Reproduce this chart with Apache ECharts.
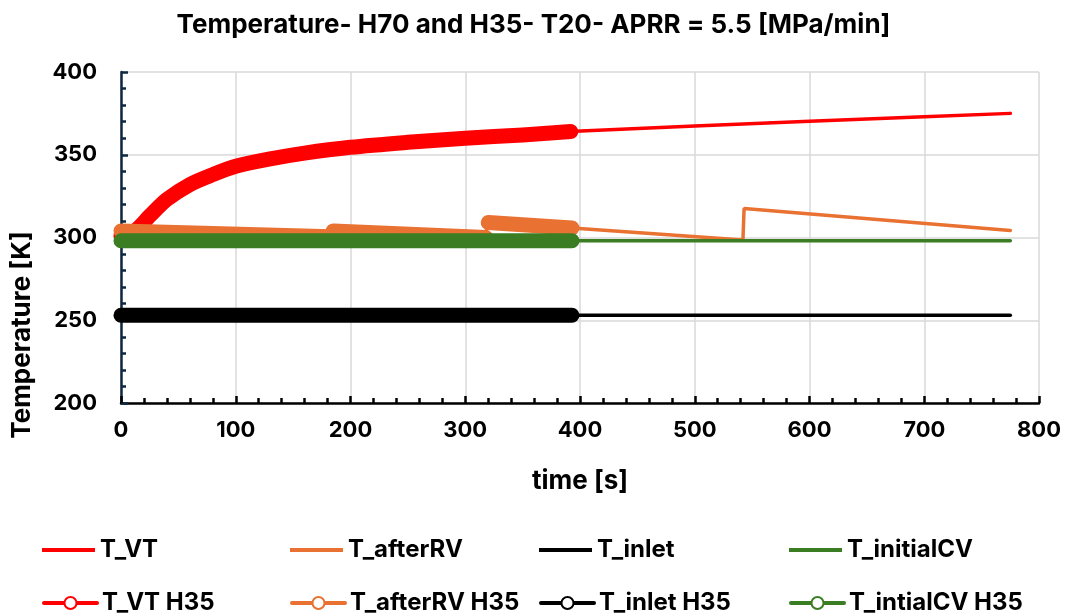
<!DOCTYPE html>
<html>
<head>
<meta charset="utf-8">
<script src="https://cdn.jsdelivr.net/npm/echarts@6/dist/echarts.min.js"></script>
<style>
html,body{margin:0;padding:0;background:#fff;}
#chart{width:1067px;height:616px;}
</style>
</head>
<body>
<div id="chart"></div>
<script>
// ---- Data ----
const titleText = 'Temperature- H70 and H35- T20- APRR = 5.5 [MPa/min]';
const xTicks = [0, 100, 200, 300, 400, 500, 600, 700, 800];
const yTicks = [200, 250, 300, 350, 400];

// H70 (thin lines)
const vtTime      = [0, 20, 50, 100, 200, 300, 391, 500, 600, 700, 775];
const vtTemp      = [301, 310, 328, 343, 354.5, 360, 364, 367.3, 370.2, 373, 375];
const afterRVTime = [0, 318, 319, 393, 542, 543, 775];
const afterRVTemp = [304, 300, 309, 305.7, 298.5, 317.5, 304.3];
const inletTime   = [0, 775];
const inletTemp   = [253, 253];
const initCVTime  = [0, 775];
const initCVTemp  = [298, 298];

// H35 (dense marker series, drawn as thick bands)
const vtH35Time      = [0, 12, 25, 40, 60, 80, 100, 130, 160, 200, 250, 300, 350, 392];
const vtH35Temp      = [301, 304, 313, 323, 332, 338, 343, 347.5, 351, 354.5, 357.5, 360, 362, 364];
// '-' marks a gap between the separate segments
const afterRVH35Time = [0, 183, 184, 185, 318, 318.5, 320, 393];
const afterRVH35Temp = [304, 300.5, '-', 304, 300, '-', 309, 305.7];
const inletH35Time   = [0, 393];
const inletH35Temp   = [253, 253];
const initCVH35Time  = [0, 393];
const initCVH35Temp  = [298, 298];

const names = ['T_VT', 'T_afterRV', 'T_inlet', 'T_initialCV',
               'T_VT H35', 'T_afterRV H35', 'T_inlet H35', 'T_intialCV H35'];
const colors = ['#FF0000', '#E97132', '#000000', '#3A7D22'];

function pairs(xs, ys) { return xs.map((x, i) => [x, ys[i]]); }

const FONT = 'Inter, "Liberation Sans", Arial, sans-serif';

const thinSets = [[vtTime, vtTemp], [afterRVTime, afterRVTemp], [inletTime, inletTemp], [initCVTime, initCVTemp]];
const thickSets = [[vtH35Time, vtH35Temp], [afterRVH35Time, afterRVH35Temp], [inletH35Time, inletH35Temp], [initCVH35Time, initCVH35Temp]];

const series = [];
thinSets.forEach((s, i) => {
  series.push({
    name: names[i], type: 'line', data: pairs(s[0], s[1]),
    symbol: 'none', showSymbol: false, connectNulls: false,
    lineStyle: { color: colors[i], width: 3.5, cap: 'round' },
    itemStyle: { color: colors[i] },
    z: 2, silent: true, animation: false
  });
});
thickSets.forEach((s, i) => {
  series.push({
    name: names[i + 4], type: 'line', data: pairs(s[0], s[1]),
    symbol: 'emptyCircle', showSymbol: false, connectNulls: false,
    smooth: i === 0 ? 0.3 : false,
    lineStyle: { color: colors[i], width: 15, cap: 'round', join: 'round' },
    itemStyle: { color: colors[i] },
    z: 3 + i, silent: true, animation: false
  });
});

const legendLefts = [42, 290, 539, 789];
const legendRowCenters = [550, 603];
const lineIcon = 'path://M0,0H53V4H0Z';
const legends = [];
names.forEach((n, idx) => {
  const col = idx % 4, row = Math.floor(idx / 4);
  legends.push({
    left: legendLefts[col], top: legendRowCenters[row] - 12,
    itemWidth: 53, itemHeight: 15, padding: 0,
    data: [row === 0 ? { name: n, icon: lineIcon } : { name: n }],
    lineStyle: { width: 4 },
    itemStyle: { borderWidth: 1.5 },
    textStyle: { fontFamily: FONT, fontSize: 24, fontWeight: 'bold', color: '#000', lineHeight: 24 },
    selectedMode: false
  });
});

const chart = echarts.init(document.getElementById('chart'), null, { renderer: 'canvas' });
chart.setOption({
  backgroundColor: '#fff',
  animation: false,
  title: {
    text: titleText, left: 'center', top: 7,
    textStyle: { fontFamily: FONT, fontSize: 26, fontWeight: 'bold', color: '#000' }
  },
  legend: legends,
  graphic: [{
    type: 'text', x: 22, y: 335, rotation: Math.PI / 2,
    style: { text: 'Temperature [K]', font: 'bold 26px ' + FONT, fill: '#000',
             textAlign: 'center', textVerticalAlign: 'middle' }
  }],
  grid: { left: 121, right: 28, top: 72, bottom: 213, containLabel: false },
  xAxis: {
    type: 'value', min: xTicks[0], max: xTicks[xTicks.length - 1], interval: 100,
    name: 'time [s]', nameLocation: 'middle', nameGap: 65,
    nameTextStyle: { fontFamily: FONT, fontSize: 26, fontWeight: 'bold', color: '#000' },
    axisLine: { show: true, onZero: false, lineStyle: { color: '#000', width: 2.5 } },
    axisTick: { show: true, inside: true, length: 7, lineStyle: { color: '#000', width: 2.5 } },
    minorTick: { show: true, splitNumber: 5, length: 5, lineStyle: { color: '#000', width: 2.5 } },
    axisLabel: { margin: 16, fontFamily: FONT, fontSize: 22, fontWeight: 'bold', color: '#000' },
    splitLine: { show: true, lineStyle: { color: '#D9D9D9', width: 1.5 } }
  },
  yAxis: {
    type: 'value', min: yTicks[0], max: yTicks[yTicks.length - 1], interval: 50,
    axisLine: { show: true, onZero: false, lineStyle: { color: '#0E2841', width: 2.5 } },
    axisTick: { show: true, inside: true, length: 7, lineStyle: { color: '#0E2841', width: 2.5 } },
    minorTick: { show: true, splitNumber: 5, length: 5, lineStyle: { color: '#0E2841', width: 2.5 } },
    axisLabel: { margin: 24, fontFamily: FONT, fontSize: 22, fontWeight: 'bold', color: '#000' },
    splitLine: { show: true, lineStyle: { color: '#D9D9D9', width: 1.5 } }
  },
  series: series
});
</script>
</body>
</html>
